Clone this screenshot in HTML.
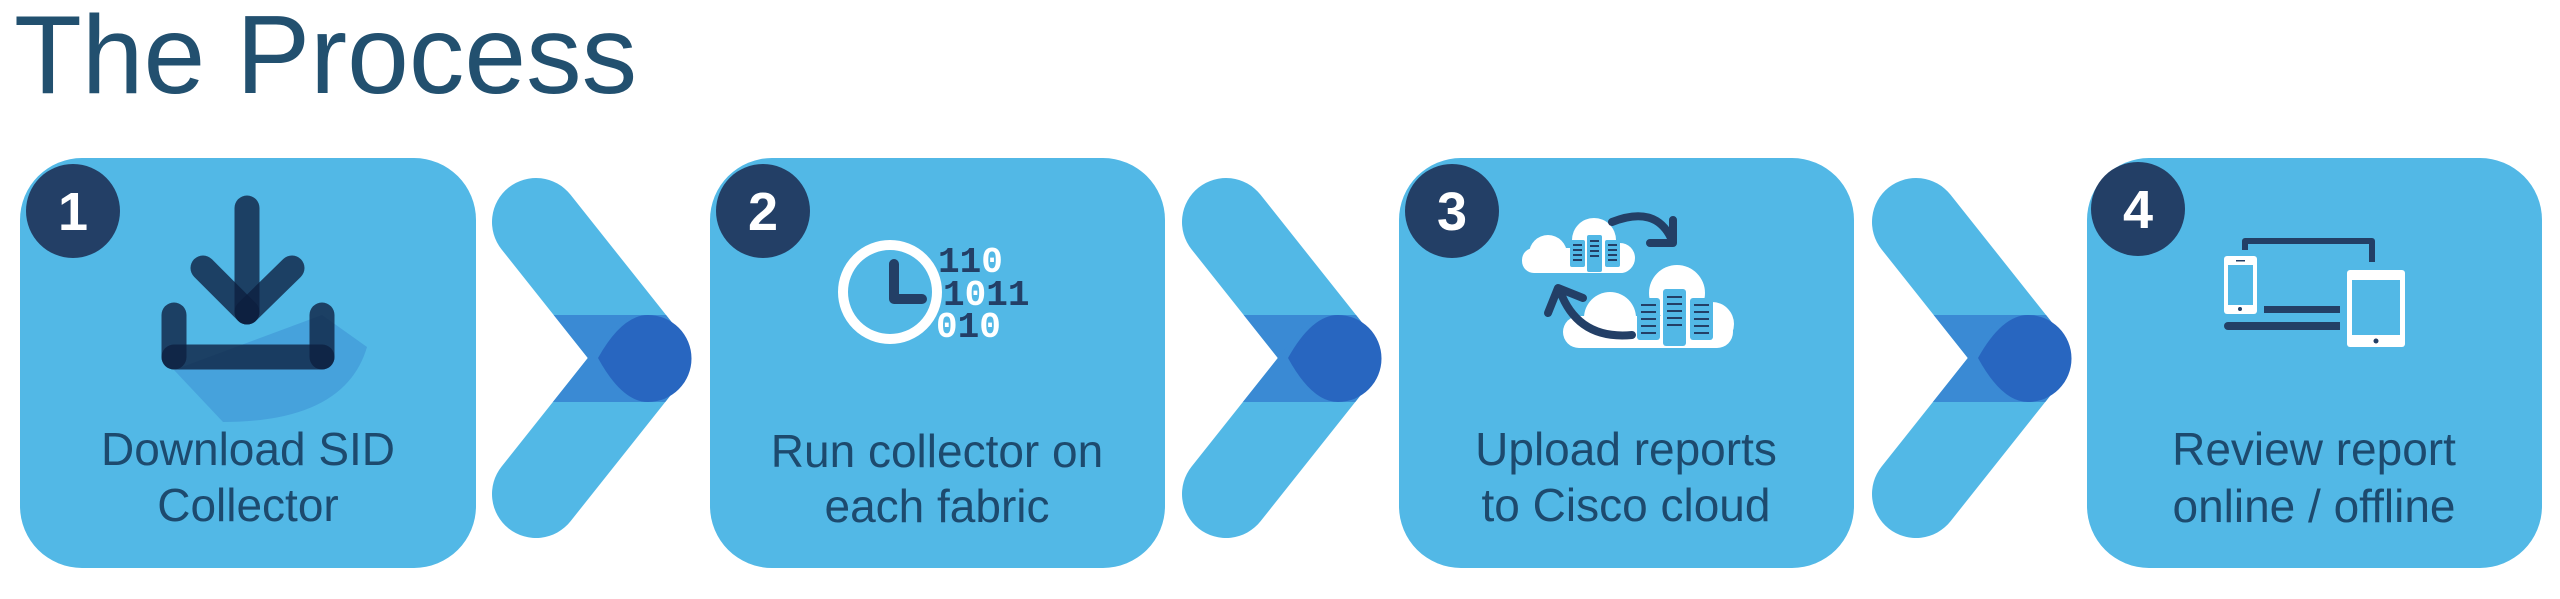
<!DOCTYPE html>
<html><head><meta charset="utf-8"><style>
html,body{margin:0;padding:0;background:#fff;width:2560px;height:599px;overflow:hidden}
svg{display:block}
.t{font-family:"Liberation Sans",sans-serif;font-size:46px;fill:#1d4a6e;text-anchor:middle}
.n{font-family:"Liberation Sans",sans-serif;font-size:54px;font-weight:bold;fill:#fff;text-anchor:middle}
.b{font-family:"Liberation Mono",monospace;font-size:36px;font-weight:bold}
</style></head><body>
<svg width="2560" height="599" viewBox="0 0 2560 599" xmlns="http://www.w3.org/2000/svg">
<defs>
<g id="chev">
  <line x1="536" y1="222" x2="644" y2="358" stroke="#52b8e6" stroke-width="88" stroke-linecap="round"/>
  <line x1="536" y1="494" x2="644" y2="358" stroke="#52b8e6" stroke-width="88" stroke-linecap="round"/>
  <g clip-path="url(#band)">
    <line x1="536" y1="222" x2="644" y2="358" stroke="#3a8ad4" stroke-width="88" stroke-linecap="round"/>
    <line x1="536" y1="494" x2="644" y2="358" stroke="#3a8ad4" stroke-width="88" stroke-linecap="round"/>
  </g>
  <path d="M598,358 Q622,315 648,315 A43.5,43.5 0 0 1 648,402 Q622,402 598,358 Z" fill="#2866c0"/>
</g>
<clipPath id="band"><rect x="480" y="315" width="260" height="87"/></clipPath>
</defs>
<text x="14" y="93" style="font-family:'Liberation Sans',sans-serif;font-size:111px;fill:#22506f">The Process</text>

<!-- boxes -->
<rect x="20" y="158" width="456" height="410" rx="62" fill="#52b8e6"/>
<rect x="710" y="158" width="455" height="410" rx="62" fill="#52b8e6"/>
<rect x="1399" y="158" width="455" height="410" rx="62" fill="#52b8e6"/>
<rect x="2087" y="158" width="455" height="410" rx="62" fill="#52b8e6"/>

<use href="#chev"/>
<use href="#chev" x="690"/>
<use href="#chev" x="1380"/>

<!-- badges -->
<circle cx="73" cy="211" r="47" fill="#233f66"/><text class="n" x="73" y="230">1</text>
<circle cx="763" cy="211" r="47" fill="#233f66"/><text class="n" x="763" y="230">2</text>
<circle cx="1452" cy="211" r="47" fill="#233f66"/><text class="n" x="1452" y="230">3</text>
<circle cx="2138" cy="209" r="47" fill="#233f66"/><text class="n" x="2138" y="228">4</text>

<!-- icon 1 -->
<path d="M322,315 L367,347 Q345,422 223,422 L174,370 Z" fill="#46a2dc"/>
<g stroke="#0d1f3f" stroke-opacity="0.78" stroke-width="25" stroke-linecap="round" fill="none">
  <line x1="247" y1="208" x2="247" y2="312"/>
  <line x1="203" y1="268" x2="247" y2="312"/>
  <line x1="292" y1="268" x2="247" y2="312"/>
  <line x1="174" y1="315" x2="174" y2="357"/>
  <line x1="322" y1="315" x2="322" y2="357"/>
  <line x1="174" y1="357" x2="322" y2="357"/>
</g>

<!-- icon 2 -->
<text class="b" x="938" y="272"><tspan fill="#233f66">11</tspan><tspan fill="#fff">0</tspan></text>
<text class="b" x="943" y="305"><tspan fill="#233f66">1</tspan><tspan fill="#fff">0</tspan><tspan fill="#233f66">11</tspan></text>
<text class="b" x="936" y="337"><tspan fill="#fff">0</tspan><tspan fill="#233f66">1</tspan><tspan fill="#fff">0</tspan></text>
<circle cx="890" cy="292" r="47" fill="#52b8e6" stroke="#fff" stroke-width="10"/>
<path d="M894,264 L894,299 L922,299" stroke="#233f66" stroke-width="10" stroke-linecap="round" stroke-linejoin="round" fill="none"/>

<!-- icon 3 -->
<g fill="#fff">
  <rect x="1522" y="248" width="111" height="25" rx="12"/>
  <circle cx="1548" cy="254" r="19"/><circle cx="1594" cy="240" r="22"/><circle cx="1620" cy="258" r="15"/>
  <rect x="1563" y="316" width="170" height="32" rx="16"/>
  <circle cx="1610" cy="318" r="26"/><circle cx="1677" cy="293" r="28"/><circle cx="1712" cy="324" r="22"/>
</g>
<g fill="#52b8e6">
  <rect x="1570" y="240" width="15" height="27" rx="2"/><rect x="1587" y="235" width="15" height="37" rx="2"/><rect x="1605" y="240" width="15" height="27" rx="2"/>
  <rect x="1637" y="298" width="23" height="42" rx="3"/><rect x="1663" y="289" width="23" height="57" rx="3"/><rect x="1690" y="298" width="23" height="42" rx="3"/>
</g>
<g stroke="#233f66" stroke-width="2">
  <path d="M1573,245h9M1573,250h9M1573,255h9M1573,260h9M1590,241h9M1590,246h9M1590,251h9M1590,256h9M1608,245h9M1608,250h9M1608,255h9M1608,260h9"/>
  <path d="M1641,305h15M1641,312h15M1641,319h15M1641,326h15M1641,333h15M1667,297h15M1667,304h15M1667,311h15M1667,318h15M1667,325h15M1694,305h15M1694,312h15M1694,319h15M1694,326h15M1694,333h15"/>
</g>
<g stroke="#233f66" stroke-width="8" stroke-linecap="round" fill="none">
  <path d="M1612,222 Q1655,205 1671,238"/>
  <path d="M1673,220 L1673,243 L1650,243" stroke-linejoin="round"/>
  <path d="M1632,335 Q1578,340 1560,291"/>
  <path d="M1548,313 L1558,288 L1583,298" stroke-linejoin="round"/>
</g>

<!-- icon 4 -->
<path d="M2245,250 V241 H2372 V262" stroke="#233f66" stroke-width="6" fill="none" stroke-linejoin="round"/>
<rect x="2264" y="306" width="76" height="7" fill="#233f66"/>
<path d="M2228,322 H2340 V330 H2228 A4,4 0 0 1 2228,322 Z" fill="#233f66"/>
<rect x="2224" y="256" width="33" height="58" rx="3" fill="#fff"/>
<rect x="2228" y="265" width="25" height="40" fill="#52b8e6"/>
<rect x="2236" y="260" width="9" height="1.5" fill="#233f66"/>
<circle cx="2240" cy="309" r="2" fill="#233f66"/>
<rect x="2347" y="270" width="58" height="77" rx="3" fill="#fff"/>
<rect x="2352" y="280" width="48" height="55" fill="#52b8e6"/>
<circle cx="2376" cy="341" r="2.5" fill="#233f66"/>

<!-- labels -->
<text class="t" x="248" y="465">Download SID</text><text class="t" x="248" y="521">Collector</text>
<text class="t" x="937" y="467">Run collector on</text><text class="t" x="937" y="522">each fabric</text>
<text class="t" x="1626" y="465">Upload reports</text><text class="t" x="1626" y="521">to Cisco cloud</text>
<text class="t" x="2314" y="465">Review report</text><text class="t" x="2314" y="522">online / offline</text>
</svg>
</body></html>
